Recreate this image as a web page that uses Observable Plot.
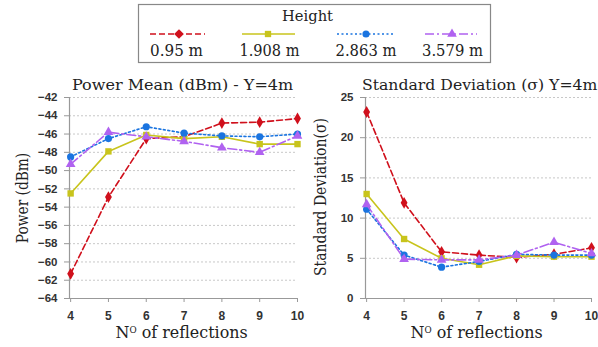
<!DOCTYPE html>
<html><head><meta charset="utf-8">
<script src="https://cdn.jsdelivr.net/npm/d3@7"></script>
<script src="https://cdn.jsdelivr.net/npm/@observablehq/plot@0.6"></script>
<style>
body{margin:0;background:#fff;width:598px;height:347px;position:relative;overflow:hidden;}
.abs{position:absolute;white-space:nowrap;color:#222;line-height:1;font-family:"DejaVu Serif","Liberation Serif",serif;}
sup{font-size:0.55em;vertical-align:0.55em;}
</style></head>
<body>
<div id="legend" class="abs" style="left:0;top:0"></div>
<div id="left" class="abs" style="left:0;top:65px"></div>
<div id="right" class="abs" style="left:300px;top:65px"></div>
<div class="abs fit" data-cx="182.5" data-cy="85.5" data-w="221" data-rot="0" style="font-size:15px">Power Mean (dBm) - Y=4m</div>
<div class="abs fit" data-cx="479.5" data-cy="85.5" data-w="235" data-rot="0" style="font-size:15px">Standard Deviation (σ) Y=4m</div>
<div class="abs fit" data-cx="181" data-cy="332" data-w="132" data-rot="0" style="font-size:17px">N<sup>O</sup> of reflections</div>
<div class="abs fit" data-cx="476" data-cy="332" data-w="132" data-rot="0" style="font-size:17px">N<sup>O</sup> of reflections</div>
<div class="abs fit" data-cx="22" data-cy="198" data-w="90" data-rot="-90" style="font-size:16px">Power (dBm)</div>
<div class="abs fit" data-cx="321" data-cy="197" data-w="158" data-rot="-90" style="font-size:16px">Standard Deviation(σ)</div>
<script>
const reflections = [4,5,6,7,8,9,10];
const heights = ["0.95 m","1.908 m","2.863 m","3.579 m"];
const colors = ["#d0101c","#c8c41c","#1a74e0","#b062f0"];
const dashes = ["6,3","none","2,2.5","9,3,2,3"];
const symbols = ["diamond","square","circle","triangle"];

const power_095  = [-61.3,-52.9,-46.5,-46.3,-44.8,-44.7,-44.3];
const power_1908 = [-52.5,-47.9,-46.1,-46.5,-46.3,-47.1,-47.1];
const power_2863 = [-48.5,-46.5,-45.2,-45.9,-46.2,-46.3,-46.0];
const power_3579 = [-49.3,-45.8,-46.3,-46.8,-47.5,-48.0,-46.2];

const sd_095  = [23.2,11.9,5.8,5.4,5.1,5.5,6.3];
const sd_1908 = [13.0,7.4,5.0,4.2,5.3,5.2,5.2];
const sd_2863 = [11.1,5.4,3.9,4.6,5.5,5.4,5.4];
const sd_3579 = [11.7,4.9,4.8,4.8,5.4,7.0,5.6];

const powerTicks = [-64,-62,-60,-58,-56,-54,-52,-50,-48,-46,-44,-42];
const sdTicks = [0,5,10,15,20,25];

function toRows(series){
  return series.map((vals,si)=>vals.map((v,i)=>({x:reflections[i],y:v,s:si})));
}

function chart(series, yDomain, yTicks, width, mLeft, mRight){
  const rows = toRows(series);
  const marks = [
    Plot.ruleY(yTicks.filter(t=>t!==yDomain[0]), {stroke:"#c8c8c8", strokeDasharray:"2,2"}),
    Plot.axisY({ticks:yTicks, tickSize:5, tickPadding:7, label:null, fontSize:11.5, fontWeight:"bold", fill:"#333", stroke:"#999"}),
    Plot.axisX({ticks:reflections, tickFormat:"d", tickSize:4, tickPadding:9, label:null, fontSize:12, fontWeight:"bold", fill:"#333", stroke:"#999"}),
    Plot.ruleX([3.97], {stroke:"#999", strokeWidth:1.2}),
    Plot.ruleY([yDomain[0]], {stroke:"#999", strokeWidth:1.2})
  ];
  rows.forEach((r,si)=>{
    marks.push(Plot.line(r,{x:"x",y:"y",stroke:colors[si],strokeWidth:1.6,strokeDasharray:dashes[si]}));
    marks.push(Plot.dot(r,{x:"x",y:"y",fill:colors[si],symbol:()=>symbols[si],r:3.6}));
  });
  return Plot.plot({
    width, height:282, marginLeft:mLeft, marginRight:mRight, marginTop:32, marginBottom:49,
    x:{domain:[3.97,10]}, y:{domain:yDomain},
    style:{fontFamily:"Liberation Sans, Arial, sans-serif", overflow:"visible", background:"transparent"},
    marks
  });
}

document.getElementById("left").append(chart([power_095,power_1908,power_2863,power_3579],[-64,-42],powerTicks,300,69,3));
document.getElementById("right").append(chart([sd_095,sd_1908,sd_2863,sd_3579],[0,25],sdTicks,298,65,7));

// legend
const serif = "'DejaVu Serif','Liberation Serif',serif";
const svg = d3.create("svg").attr("width",598).attr("height",65).style("overflow","visible");
svg.append("rect").attr("x",138.5).attr("y",4.5).attr("width",352).attr("height",58).attr("fill","#fff").attr("stroke","#888").attr("stroke-width",1.2);
svg.append("text").attr("x",307.5).attr("y",21).attr("text-anchor","middle").attr("font-family",serif).attr("font-size",15)
  .attr("textLength",51).attr("lengthAdjust","spacingAndGlyphs").attr("fill","#222").text("Height");
const lineX = [[150,205],[242,295],[337,393],[425,477]];
const markX = [179,268,366,452];
const labelC = [176.5,269.5,366,452.5];
const labelW = [53,60,61,61];
const sym = {diamond:d3.symbolDiamond2, square:d3.symbolSquare, circle:d3.symbolCircle, triangle:d3.symbolTriangle};
heights.forEach((h,i)=>{
  const g = svg.append("g");
  g.append("line").attr("x1",lineX[i][0]).attr("x2",lineX[i][1]).attr("y1",34).attr("y2",34).attr("stroke",colors[i]).attr("stroke-width",1.6).attr("stroke-dasharray",dashes[i]);
  g.append("path").attr("transform",`translate(${markX[i]},34)`).attr("d",d3.symbol(sym[symbols[i]], symbols[i]==="diamond"?60:40)()).attr("fill",colors[i]);
  g.append("text").attr("x",labelC[i]).attr("y",56).attr("text-anchor","middle").attr("font-family",serif).attr("font-size",17)
    .attr("textLength",labelW[i]).attr("lengthAdjust","spacingAndGlyphs").attr("fill","#222").text(h);
});
document.getElementById("legend").append(svg.node());

// fit html labels to their measured spans in the reference
document.querySelectorAll(".fit").forEach(el=>{
  const w = el.offsetWidth, h = el.offsetHeight;
  const s = (+el.dataset.w)/w;
  const cx = +el.dataset.cx, cy = +el.dataset.cy;
  el.style.left = (cx - w/2) + "px";
  el.style.top = (cy - h/2) + "px";
  el.style.transformOrigin = "50% 50%";
  el.style.transform = `rotate(${el.dataset.rot}deg) scaleX(${s})`;
});
</script>
</body></html>
